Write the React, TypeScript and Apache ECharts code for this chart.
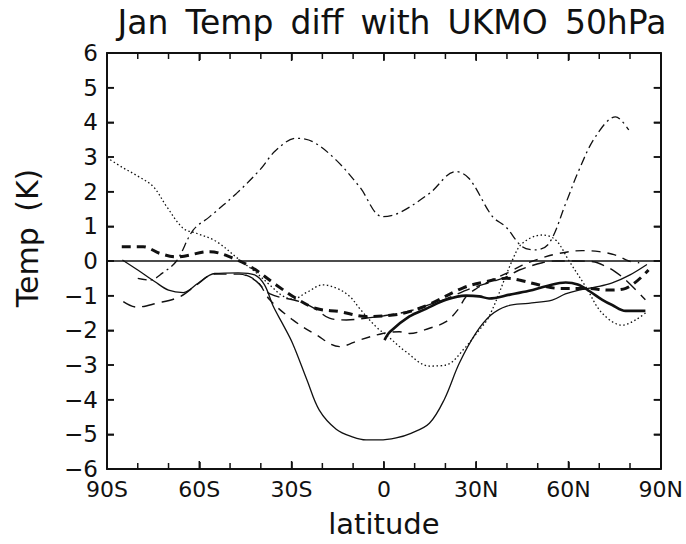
import React, { useEffect, useRef } from "react";
import * as echarts from "echarts";

const TITLE = "Jan\u2009 Temp\u2009 diff\u2009 with\u2009 UKMO\u2009 50hPa";
const X_NAME = "latitude";
const Y_NAME = "Temp\u2009 (K)";
const X_TICKS: Record<string, string> = { "-90": "90S", "-60": "60S", "-30": "30S", "0": "0", "30": "30N", "60": "60N", "90": "90N" };
const X_MIN = -90, X_MAX = 90, X_MAJOR = 30;
const Y_MIN = -6, Y_MAX = 6, Y_STEP = 1;

// tick positions (every 10 degrees of latitude, every 1 K)
const xTickVals = [-80, -70, -60, -50, -40, -30, -20, -10, 0, 10, 20, 30, 40, 50, 60, 70, 80];
const yTickVals = [-5, -4, -3, -2, -1, 0, 1, 2, 3, 4, 5];

// thin solid
const thinSolidLat = [-85, -80, -74.4, -70, -65.2, -60.4, -55, -47.4, -42, -38.8, -36, -33, -29.7, -25, -21, -15.5, -10, -5.8, -1.4, 4, 8.8, 14.8, 19.6, 24.5, 29.9, 34.8, 40, 47, 54.7, 59, 63.4, 69, 74, 80, 85.5];
const thinSolidVal = [0.03, -0.26, -0.6, -0.84, -0.91, -0.64, -0.36, -0.34, -0.4, -0.69, -1.3, -1.8, -2.37, -3.43, -4.3, -4.85, -5.08, -5.16, -5.16, -5.1, -4.97, -4.68, -4.0, -2.95, -2.08, -1.56, -1.3, -1.22, -1.13, -0.95, -0.84, -0.75, -0.64, -0.4, -0.1];

// thick solid
const thickSolidLat = [0.2, 2, 8.3, 13.7, 20.2, 26.7, 31, 34.2, 41, 47.2, 53, 59.1, 63, 67, 71, 74.2, 78.6, 85];
const thickSolidVal = [-2.28, -2.04, -1.6, -1.38, -1.12, -1.0, -1.02, -1.08, -0.97, -0.86, -0.72, -0.62, -0.68, -0.88, -1.12, -1.27, -1.44, -1.44];

// dotted
const dottedLat = [-90, -85, -80, -75, -70.6, -65.2, -60.9, -54.4, -46.9, -42, -37, -33, -29.6, -25, -19.8, -15, -11, -7.9, -2.5, 1, 7.2, 14.8, 20.2, 26.7, 30, 34.2, 41.8, 45, 51.5, 55.9, 60.2, 65.6, 71, 77.5, 81.8, 85.6];
const dottedVal = [2.98, 2.7, 2.45, 2.15, 1.57, 0.94, 0.8, 0.56, 0.03, -0.3, -0.7, -1.0, -1.1, -0.9, -0.69, -0.8, -1.03, -1.37, -1.9, -2.15, -2.62, -3.03, -3.0, -2.47, -2.1, -1.6, 0.03, 0.51, 0.75, 0.6, 0.0, -0.74, -1.51, -1.85, -1.7, -1.46];

// dash-dot
const dashDotLat = [-80, -76, -72, -67.4, -62, -56.6, -47.9, -40.4, -35, -28.5, -23.1, -15.5, -7.9, -0.4, 5, 14.8, 23.4, 27.7, 35.3, 39.6, 45, 49.4, 53.7, 59.1, 63.4, 68.8, 75.3, 79.6];
const dashDotVal = [-0.5, -0.55, -0.35, 0.0, 0.89, 1.28, 1.95, 2.62, 3.2, 3.54, 3.44, 2.91, 2.14, 1.28, 1.39, 1.95, 2.58, 2.38, 1.28, 0.99, 0.41, 0.32, 0.51, 1.66, 2.62, 3.59, 4.16, 3.78];

// heavy short dashed
const heavyDashLat = [-85.2, -78.2, -72.8, -67.4, -56.6, -49, -42.5, -35, -28.5, -22, -14.4, -5.8, 2.9, 8.3, 14.8, 25.6, 33, 40, 44, 50.5, 56.9, 65.6, 73.2, 78.6, 86];
const heavyDashVal = [0.41, 0.41, 0.22, 0.12, 0.27, 0.08, -0.21, -0.69, -1.08, -1.37, -1.46, -1.6, -1.56, -1.46, -1.25, -0.78, -0.6, -0.5, -0.55, -0.69, -0.79, -0.79, -0.84, -0.79, -0.26];

// long dashed
const longDashLat = [-84.7, -80.4, -73.9, -66.3, -60.9, -55, -47, -42, -37, -27.4, -22, -17.7, -12.2, -6, 0, 8, 15, 20, 28, 35, 40, 44, 51.5, 56, 62, 68, 72, 75, 78.6, 85];
const longDashVal = [-1.17, -1.33, -1.22, -1.03, -0.69, -0.38, -0.38, -0.55, -0.95, -1.17, -1.4, -1.65, -1.7, -1.65, -1.58, -1.45, -1.25, -1.1, -0.8, -0.6, -0.45, -0.26, -0.05, 0.0, 0.0, -0.02, -0.15, -0.3, -0.55, -1.12];

// medium dashed
const medDashLat = [-45, -41, -37.1, -29.6, -22, -14.4, -7.9, -0.4, 5, 8.3, 14.8, 20.2, 24, 26.7, 30, 35, 40, 45, 50, 57, 64.5, 70, 75.3, 79.6, 83];
const medDashVal = [-0.4, -0.6, -1.12, -1.7, -2.13, -2.47, -2.28, -2.09, -2.04, -2.09, -1.94, -1.75, -1.41, -1.03, -0.8, -0.55, -0.35, -0.12, 0.05, 0.22, 0.3, 0.27, 0.17, 0.0, -0.05];

const zeroLat = [X_MIN, X_MAX];
const zeroVal = [0, 0];

const zip = (a: number[], b: number[]) => a.map((x, i) => [x, b[i]]);

const INK = "#111";
const FONT = "DejaVu Sans";

function mkLine(name: string, lat: number[], val: number[], width: number, type: any, smooth: number | boolean = 0.35) {
  return {
    name,
    type: "line",
    data: zip(lat, val),
    showSymbol: false,
    smooth,
    lineStyle: { color: INK, width, type, cap: "butt" },
    z: 3,
  };
}

const axisLine = () => ({ show: true, onZero: false, lineStyle: { color: INK, width: 2 } });
const tick = () => ({ show: true, inside: true, length: 7, lineStyle: { color: INK, width: 1.5 } });

export default function App() {
  const ref = useRef<HTMLDivElement>(null);
  useEffect(() => {
    if (!ref.current) return;
    const chart = echarts.init(ref.current, null, { renderer: "svg" });
    const tickLine = (x1: number, y1: number, x2: number, y2: number) => ({
      type: "line",
      shape: { x1, y1, x2, y2 },
      style: { stroke: INK, lineWidth: 1.5 },
    });
    chart.setOption({
      animation: false,
      backgroundColor: "#fff",
      title: {
        text: TITLE,
        left: 387,
        top: 1,
        textAlign: "center",
        textStyle: { fontFamily: FONT, fontSize: 33, fontWeight: "normal", color: INK },
      },
      graphic: [
        {
          type: "text",
          x: 27,
          y: 238,
          rotation: Math.PI / 2,
          style: {
            text: Y_NAME,
            fontFamily: FONT,
            fontSize: 30,
            fill: INK,
            align: "center",
            verticalAlign: "middle",
          },
        },
      ],
      grid: { left: 107, right: 24, top: 53, bottom: 75 },
      xAxis: [
        {
          type: "value",
          min: X_MIN,
          max: X_MAX,
          interval: X_MAJOR,
          position: "bottom",
          name: X_NAME,
          nameLocation: "middle",
          nameGap: 40,
          nameTextStyle: { fontFamily: FONT, fontSize: 29, color: INK },
          axisLine: axisLine(),
          axisTick: tick(),
          axisLabel: {
            fontFamily: FONT,
            fontSize: 22,
            color: INK,
            margin: 9,
            formatter: (v: number) => X_TICKS[String(v)] ?? "",
          },
          splitLine: { show: false },
        },
        {
          type: "value",
          min: X_MIN,
          max: X_MAX,
          interval: X_MAJOR,
          position: "top",
          axisLine: axisLine(),
          axisTick: tick(),
          axisLabel: { show: false },
          splitLine: { show: false },
        },
      ],
      yAxis: [
        {
          type: "value",
          min: Y_MIN,
          max: Y_MAX,
          interval: Y_STEP,
          position: "left",
          axisLine: axisLine(),
          axisTick: tick(),
          axisLabel: {
            fontFamily: FONT,
            fontSize: 23,
            color: INK,
            margin: 9,
            formatter: (v: number) => (v < 0 ? "\u2212" + Math.abs(v) : String(v)),
          },
          splitLine: { show: false },
        },
        {
          type: "value",
          min: Y_MIN,
          max: Y_MAX,
          interval: Y_STEP,
          position: "right",
          axisLine: axisLine(),
          axisTick: tick(),
          axisLabel: { show: false },
          splitLine: { show: false },
        },
      ],
      series: [
        { ...mkLine("zero", zeroLat, zeroVal, 1.5, "solid", false), z: 2 },
        mkLine("thin solid", thinSolidLat, thinSolidVal, 1.3, "solid"),
        mkLine("thick solid", thickSolidLat, thickSolidVal, 2.6, "solid"),
        mkLine("dotted", dottedLat, dottedVal, 1.3, [1.5, 2.5]),
        mkLine("dash-dot", dashDotLat, dashDotVal, 1.3, [9, 4, 2, 4]),
        mkLine("heavy dashed", heavyDashLat, heavyDashVal, 3, [9, 6]),
        mkLine("long dashed", longDashLat, longDashVal, 1.4, [13, 7]),
        mkLine("medium dashed", medDashLat, medDashVal, 1.4, [9, 7]),
        {
          name: "x ticks",
          type: "custom",
          coordinateSystem: "cartesian2d",
          clip: false,
          silent: true,
          z: 5,
          data: xTickVals.map((v) => [v, 0]),
          renderItem: (params: any, api: any) => {
            const v = api.value(0);
            const len = v % X_MAJOR === 0 ? 8 : 6;
            const b = api.coord([v, Y_MIN]);
            const t = api.coord([v, Y_MAX]);
            return {
              type: "group",
              children: [tickLine(b[0], b[1], b[0], b[1] - len), tickLine(t[0], t[1], t[0], t[1] + len)],
            };
          },
        },
        {
          name: "y ticks",
          type: "custom",
          coordinateSystem: "cartesian2d",
          clip: false,
          silent: true,
          z: 5,
          data: yTickVals.map((v) => [0, v]),
          renderItem: (params: any, api: any) => {
            const v = api.value(1);
            const l = api.coord([X_MIN, v]);
            const r = api.coord([X_MAX, v]);
            return {
              type: "group",
              children: [tickLine(l[0], l[1], l[0] + 7, l[1]), tickLine(r[0], r[1], r[0] - 7, r[1])],
            };
          },
        },
      ],
    });
    return () => chart.dispose();
  }, []);
  return (
    <div
      ref={ref}
      style={{ position: "fixed", left: 0, top: 0, width: 686, height: 544, background: "#fff" }}
    />
  );
}
